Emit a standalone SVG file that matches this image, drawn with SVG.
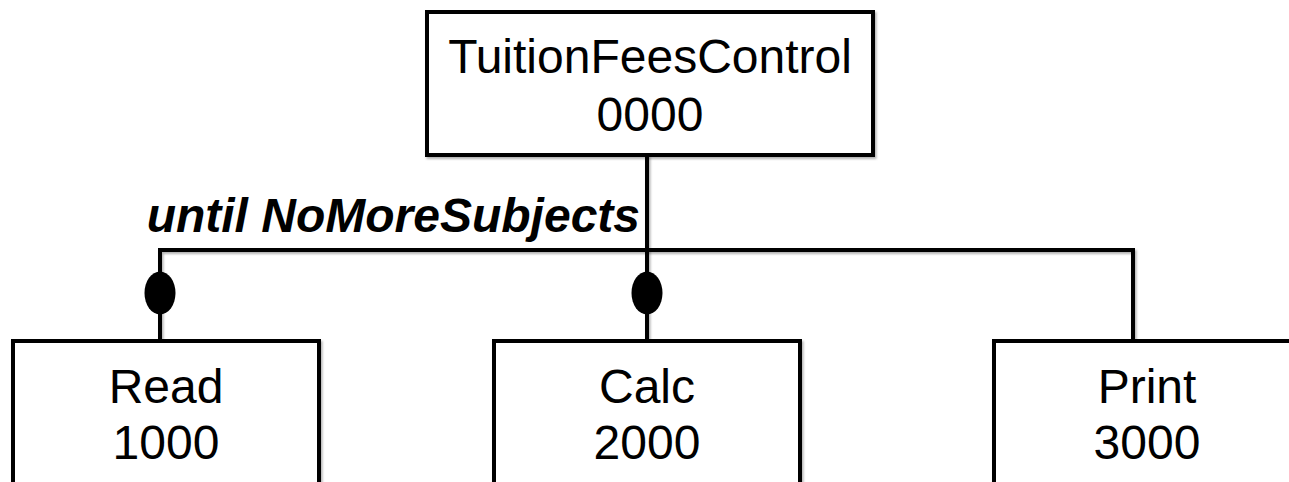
<svg xmlns="http://www.w3.org/2000/svg" width="1289" height="482" viewBox="0 0 1289 482">
  <defs>
    <!-- region in user space so zero-width lines still get filtered -->
    <filter id="soft-shadow" filterUnits="userSpaceOnUse" x="0" y="0" width="1289" height="482">
      <feDropShadow dx="1.5" dy="2" stdDeviation="1.2" flood-color="#000000" flood-opacity="0.3"/>
    </filter>
  </defs>
  <style>
    .box { fill: #ffffff; stroke: #000000; stroke-width: 4; filter: url(#soft-shadow); }
    .lbl { font-family: "Liberation Sans", Arial, sans-serif; font-size: 48px; fill: #000000; text-anchor: middle; }
    .cond { font-family: "Liberation Sans", Arial, sans-serif; font-size: 48px; font-weight: bold; font-style: italic; fill: #000000; text-anchor: end; }
    .wire { fill: none; stroke: #000000; stroke-width: 4; stroke-linejoin: miter; filter: url(#soft-shadow); }
    .iter { fill: #000000; }
  </style>
  <rect width="1289" height="482" fill="#ffffff"/>

  <!-- connectors: tree from the control module to its three children -->
  <g id="connectors">
    <line class="wire" x1="647" y1="155" x2="647" y2="341"/>
    <polyline class="wire" points="160,341 160,250 1133,250 1133,341"/>
    <ellipse class="iter" cx="160" cy="293" rx="15.5" ry="21.5"/>
    <ellipse class="iter" cx="647" cy="293" rx="15.5" ry="21.5"/>
    <text class="cond" x="640" y="232">until NoMoreSubjects</text>
  </g>

  <g id="node-control">
    <rect class="box" x="427" y="12" width="446" height="143"/>
    <text class="lbl" x="650" y="73">TuitionFeesControl</text>
    <text class="lbl" x="650" y="131">0000</text>
  </g>

  <g id="node-read">
    <rect class="box" x="13" y="341" width="306" height="160"/>
    <text class="lbl" x="166" y="403">Read</text>
    <text class="lbl" x="166" y="459">1000</text>
  </g>

  <g id="node-calc">
    <rect class="box" x="494" y="341" width="306" height="160"/>
    <text class="lbl" x="647" y="403">Calc</text>
    <text class="lbl" x="647" y="459">2000</text>
  </g>

  <g id="node-print">
    <rect class="box" x="994" y="341" width="306" height="160"/>
    <text class="lbl" x="1147" y="403">Print</text>
    <text class="lbl" x="1147" y="459">3000</text>
  </g>
</svg>
